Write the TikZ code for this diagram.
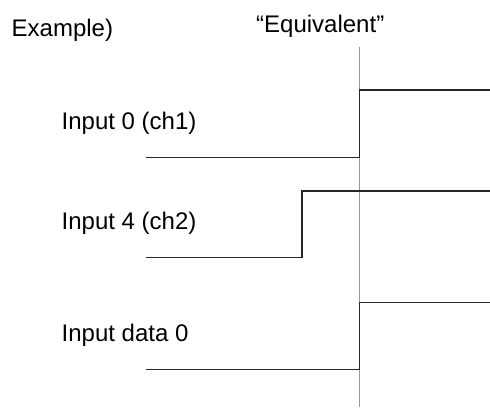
\documentclass[tikz,border=0pt]{standalone}
\usepackage{fontspec}
\setmainfont{Liberation Sans}
\begin{document}
\begin{tikzpicture}[x=1pt,y=-1pt,
  lbl/.style={anchor=base west,inner sep=0pt,font=\fontsize{24}{28}\selectfont},
  sig/.style={line width=1.3pt,black!85},
  ref/.style={line width=1pt,black!40}]
\useasboundingbox[fill=white] (0,0) rectangle (490,407);
\node[lbl] (ex) at (11.5,36) {Example)};
\node[lbl] (eq) at (256,32) {“Equivalent”};
\node[lbl] (in0) at (61.5,129) {Input 0 (ch1)};
\node[lbl] (in4) at (61.5,229) {Input 4 (ch2)};
\node[lbl] (id0) at (61.5,341) {Input data 0};
\coordinate (vt) at (359.5,47);
\coordinate (vb) at (359.5,407);
\draw[ref] (vt) -- (vb);
% signal 1
\coordinate (a0) at (146,157.3);
\coordinate (a1) at (359.5,157.3);
\coordinate (a2) at (359.5,90);
\coordinate (a3) at (490,90);
\draw[sig] (a0) -- (a1) -- (a2) -- (a3);
% signal 2
\coordinate (b0) at (146,257.3);
\coordinate (b1) at (302,257.3);
\coordinate (b2) at (302,191);
\coordinate (b3) at (490,191);
\draw[sig] (b0) -- (b1) -- (b2) -- (b3);
% signal 3
\coordinate (c0) at (146,369.3);
\coordinate (c1) at (359.5,369.3);
\coordinate (c2) at (359.5,302.7);
\coordinate (c3) at (490,302.7);
\draw[sig] (c0) -- (c1) -- (c2) -- (c3);
\end{tikzpicture}
\end{document}
